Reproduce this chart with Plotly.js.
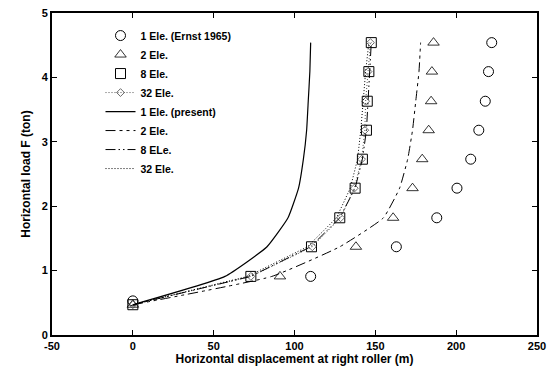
<!DOCTYPE html>
<html>
<head>
<meta charset="utf-8">
<script src="https://cdn.plot.ly/plotly-3.0.1.min.js"></script>
<style>
  html, body { margin: 0; padding: 0; background: #fff; }
  #chart { width: 555px; height: 375px; }
</style>
</head>
<body>
<div id="chart"></div>
<script>
// Load levels (ton)
const loadLevels = [0.47, 0.91, 1.37, 1.82, 2.28, 2.73, 3.18, 3.63, 4.09, 4.54];

// Ernst (1965) results
const ernst1X = [0, 110, 163, 188, 200.5, 209, 214, 218, 220, 222];
const ernst1Y = [0.53, 0.91, 1.37, 1.82, 2.28, 2.73, 3.18, 3.63, 4.09, 4.54];
const ernst2X = [0, 91, 138, 161, 173, 179, 183, 184.5, 185, 186];
const ernst8X = [0, 73, 110.5, 128, 137.5, 142, 144.5, 145, 146, 147.5];
const ernst32X = [0, 73, 111, 128.5, 137, 141.5, 143.5, 144, 145.5, 147];

// Present results
const present1X = [0, 57, 83, 96, 102.5, 105.5, 107.5, 108.5, 109.5, 110];
const present2X = [0, 86, 128, 155, 165, 170, 173, 175, 177, 178];
const present8X = [0, 73, 110, 128, 137.5, 142, 144.5, 145.5, 146.5, 147.5];
const present32X = [0, 71, 108, 126, 134.5, 139, 141, 142.5, 144, 146];

const xTicks = [-50, 0, 50, 100, 150, 200, 250];
const yTicks = [0, 1, 2, 3, 4, 5];

const FONT = 'Liberation Sans, Arial, sans-serif';

const traces = [
  { name: '1 Ele. (Ernst 1965)', x: ernst1X, y: ernst1Y, mode: 'markers',
    marker: { symbol: 'circle-open', size: 10, color: '#000', line: { width: 1 } } },
  { name: '2 Ele.', x: ernst2X, y: loadLevels, mode: 'markers',
    marker: { symbol: 'triangle-up-open', size: 10, color: '#000', line: { width: 0.8 } } },
  { name: '8 Ele.', x: ernst8X, y: loadLevels, mode: 'markers',
    marker: { symbol: 'square-open', size: 10, color: '#000', line: { width: 1 } } },
  { name: '32 Ele.', x: ernst32X, y: loadLevels, mode: 'lines+markers',
    line: { color: '#555', width: 1, dash: '1px,2px' },
    marker: { symbol: 'diamond-open', size: 6, color: '#444', line: { width: 0.8 } } },
  { name: '1 Ele. (present)', x: present1X, y: loadLevels, mode: 'lines',
    line: { color: '#000', width: 1.2, shape: 'spline', smoothing: 0.4 } },
  { name: '2 Ele.', x: present2X, y: loadLevels, mode: 'lines',
    line: { color: '#000', width: 1, dash: '10px,4px,3px,4px,3px,4px', shape: 'spline', smoothing: 0.4 } },
  { name: '8 ELe.', x: present8X, y: loadLevels, mode: 'lines',
    line: { color: '#000', width: 1, dash: '10px,3px,1.5px,3px,1.5px,3px' } },
  { name: '32 Ele.', x: present32X, y: loadLevels, mode: 'lines',
    line: { color: '#000', width: 1, dash: '1px,2px' } }
];

const axisCommon = {
  showgrid: false, zeroline: false,
  showline: true, linecolor: '#000', linewidth: 2, mirror: 'allticks',
  ticks: 'inside', ticklen: 5, tickcolor: '#000', tickwidth: 1,
  tickfont: { family: FONT, size: 11, color: '#000', weight: 'bold' }
};

const layout = {
  width: 555, height: 375,
  margin: { l: 52, r: 18, t: 13, b: 40 },
  paper_bgcolor: '#fff', plot_bgcolor: '#fff',
  font: { family: FONT, color: '#000' },
  showlegend: true,
  legend: {
    x: 0.1, y: 0.975, xanchor: 'left', yanchor: 'top',
    bgcolor: 'rgba(0,0,0,0)', borderwidth: 0,
    font: { family: FONT, size: 10.5, color: '#000', weight: 'bold' },
    tracegroupgap: 0
  },
  xaxis: Object.assign({}, axisCommon, {
    range: [-50, 250], tickvals: xTicks, ticktext: xTicks.map(String),
    title: { text: 'Horizontal displacement at right roller (m)', standoff: 2,
             font: { family: FONT, size: 12, color: '#000', weight: 'bold' } }
  }),
  yaxis: Object.assign({}, axisCommon, {
    range: [0, 5], tickvals: yTicks, ticktext: yTicks.map(String),
    title: { text: 'Horizontal load F (ton)', standoff: 8,
             font: { family: FONT, size: 12, color: '#000', weight: 'bold' } }
  })
};

Plotly.newPlot('chart', traces, layout, { displayModeBar: false, staticPlot: true });
</script>
</body>
</html>
